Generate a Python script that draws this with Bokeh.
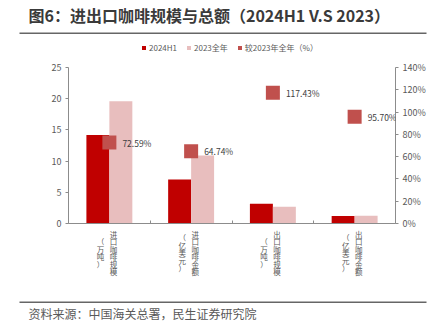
import numpy as np
from bokeh.plotting import figure
from bokeh.layouts import column
from bokeh.models import (ColumnDataSource, Range1d, LinearAxis, FixedTicker, PrintfTickFormatter,
                          Legend, LegendItem, LabelSet, Label)
from bokeh.core.properties import value
from bokeh.transform import dodge
from bokeh.embed import file_html
from bokeh.resources import INLINE

# ---- data ----
categories = ["进口咖啡规模", "进口咖啡金额", "出口咖啡规模", "出口咖啡金额"]
units = ["（万吨）", "（亿美元）", "（万吨）", "（亿美元）"]
h1_2024 = [14.2, 7.05, 3.17, 1.20]
full_2023 = [19.6, 10.9, 2.70, 1.25]
ratio_pct = [72.59, 64.74, 117.43, 95.70]
left_ticks = [0, 5, 10, 15, 20, 25]
right_ticks = [0, 20, 40, 60, 80, 100, 120, 140]
series_names = ["2024H1", "2023全年", "较2023年全年（%）"]

title_text = "图6：进出口咖啡规模与总额（2024H1 V.S 2023）"
source_text = "资料来源：中国海关总署，民生证券研究院"

FONT = "Noto Sans CJK SC"
RED = "#C00000"
PINK = "#E8BEBE"
MARK = "#C0504D"
AXIS = "#8C8C8C"
TXT = "#595959"
RULE = "#666666"
W = 438
n = len(categories)
FR_L, FR_R = 68, 43            # frame margins of the chart
PX = (W - FR_L - FR_R) / n     # pixels per category
RULE_L, RULE_R = 19, 426       # horizontal extent of the page rules (px)


def strip(h, x_range):
    f = figure(width=W, height=h, x_range=x_range, y_range=Range1d(0, h),
               output_backend="svg", toolbar_location=None,
               min_border_left=0, min_border_right=0, min_border_top=0, min_border_bottom=0,
               x_axis_location=None, y_axis_location=None, frame_align=False)
    f.outline_line_color = None
    f.xgrid.visible = False
    f.ygrid.visible = False
    f.border_fill_color = "white"
    return f


# ---- title strip (title, rule, legend) ----
TH = 60
tf = strip(TH, Range1d(0, W))
tf.add_layout(Label(x=28, y=TH - 14, text=title_text, text_font=FONT, text_font_size="16px",
                    text_font_style="bold", text_color="#3A3A3A", text_baseline="middle"))
tf.quad(left=[RULE_L], right=[RULE_R], top=[TH - 32], bottom=[TH - 33.4],
        fill_color=RULE, line_color=None)
nan = np.array([np.nan])
sw = [tf.vbar(x=nan, top=nan, width=1, fill_color=c, line_color=None) for c in (RED, PINK, MARK)]
legend = Legend(items=[LegendItem(label=s, renderers=[r]) for s, r in zip(series_names, sw)],
                orientation="horizontal", location=(141, 7.5),
                glyph_width=5, glyph_height=5, label_height=8, label_width=8,
                label_standoff=3, spacing=9,
                padding=0, margin=0, border_line_color=None, background_fill_alpha=0,
                label_text_font=FONT, label_text_font_size="8px", label_text_color=TXT)
tf.add_layout(legend, "center")

# ---- main chart ----
src = ColumnDataSource(dict(
    x=[i + 0.5 for i in range(n)],
    h1=h1_2024, fy=full_2023, pct=ratio_pct,
    pct_label=[f"{v:.2f}%" for v in ratio_pct],
))

p = figure(width=W, height=169, x_range=Range1d(0, n), y_range=Range1d(0, 25),
           output_backend="svg", toolbar_location=None,
           min_border_left=FR_L, min_border_right=FR_R, min_border_top=7, min_border_bottom=6,
           x_axis_location=None, y_axis_location=None, frame_align=False)
p.outline_line_color = None
p.xgrid.visible = False
p.ygrid.visible = False
p.border_fill_color = "white"
p.extra_y_ranges = {"pct": Range1d(0, 140)}

bw = 0.281
p.vbar(x=dodge("x", -bw / 2, range=p.x_range), top="h1", width=bw, source=src,
       fill_color=RED, line_color=None)
p.vbar(x=dodge("x", bw / 2, range=p.x_range), top="fy", width=bw, source=src,
       fill_color=PINK, line_color=None)
p.scatter(x="x", y="pct", marker="square", size=14, source=src, y_range_name="pct",
          fill_color=MARK, line_color=None)
p.add_layout(LabelSet(x="x", y="pct", text="pct_label", source=src, y_range_name="pct",
                      x_offset=13, text_baseline="middle", text_align="left",
                      text_font=value(FONT), text_font_size="8.5px", text_color="#404040"))

ly = LinearAxis(ticker=FixedTicker(ticks=left_ticks))
ry = LinearAxis(ticker=FixedTicker(ticks=right_ticks), y_range_name="pct",
                formatter=PrintfTickFormatter(format="%d%%"))
bticks = list(range(n + 1))
bx = LinearAxis(ticker=FixedTicker(ticks=bticks), major_label_overrides={t: "" for t in bticks})
for ax in (ly, ry, bx):
    ax.axis_line_color = AXIS
    ax.major_tick_line_color = AXIS
    ax.minor_tick_line_color = None
    ax.major_label_text_font = FONT
    ax.major_label_text_font_size = "9px"
    ax.major_label_text_color = TXT
for ax in (ly, ry):
    ax.major_tick_out = 3
    ax.major_tick_in = 0
    ax.major_label_standoff = 4
bx.major_tick_in = 3
bx.major_tick_out = 0
bx.major_label_standoff = 0
bx.major_label_text_font_size = "1px"
p.add_layout(ly, "left")
p.add_layout(ry, "right")
p.add_layout(bx, "below")

# ---- footer strip (category labels, rule, source) ----
FH = 105
sf = strip(FH, Range1d(-FR_L / PX, n + FR_R / PX))
lab = ColumnDataSource(dict(
    x=[i + 0.5 for i in range(n)],
    y=[FH - 23.5] * n,
    name_v=["\n".join(list(c)) for c in categories],
    unit_v=["\n".join(list(u)) for u in units],
))
for col, dx in (("name_v", 4), ("unit_v", -9)):
    sf.text(x=dodge("x", dx / PX, range=sf.x_range), y="y", text=col, source=lab,
            text_align="center", text_baseline="middle", text_line_height=0.69,
            text_font=value(FONT), text_font_size="7.5px", text_color=TXT)
sf.quad(left=[(RULE_L - FR_L) / PX], right=[(RULE_R - FR_L) / PX],
        top=[FH - 72], bottom=[FH - 73.4], fill_color=RULE, line_color=None)
sf.add_layout(Label(x=(28 - FR_L) / PX, y=FH - 84, text=source_text, text_font=FONT,
                    text_font_size="12px", text_color=TXT, text_baseline="middle"))

layout = column(tf, p, sf, spacing=0)
open("out.html", "w").write(file_html(layout, INLINE))
